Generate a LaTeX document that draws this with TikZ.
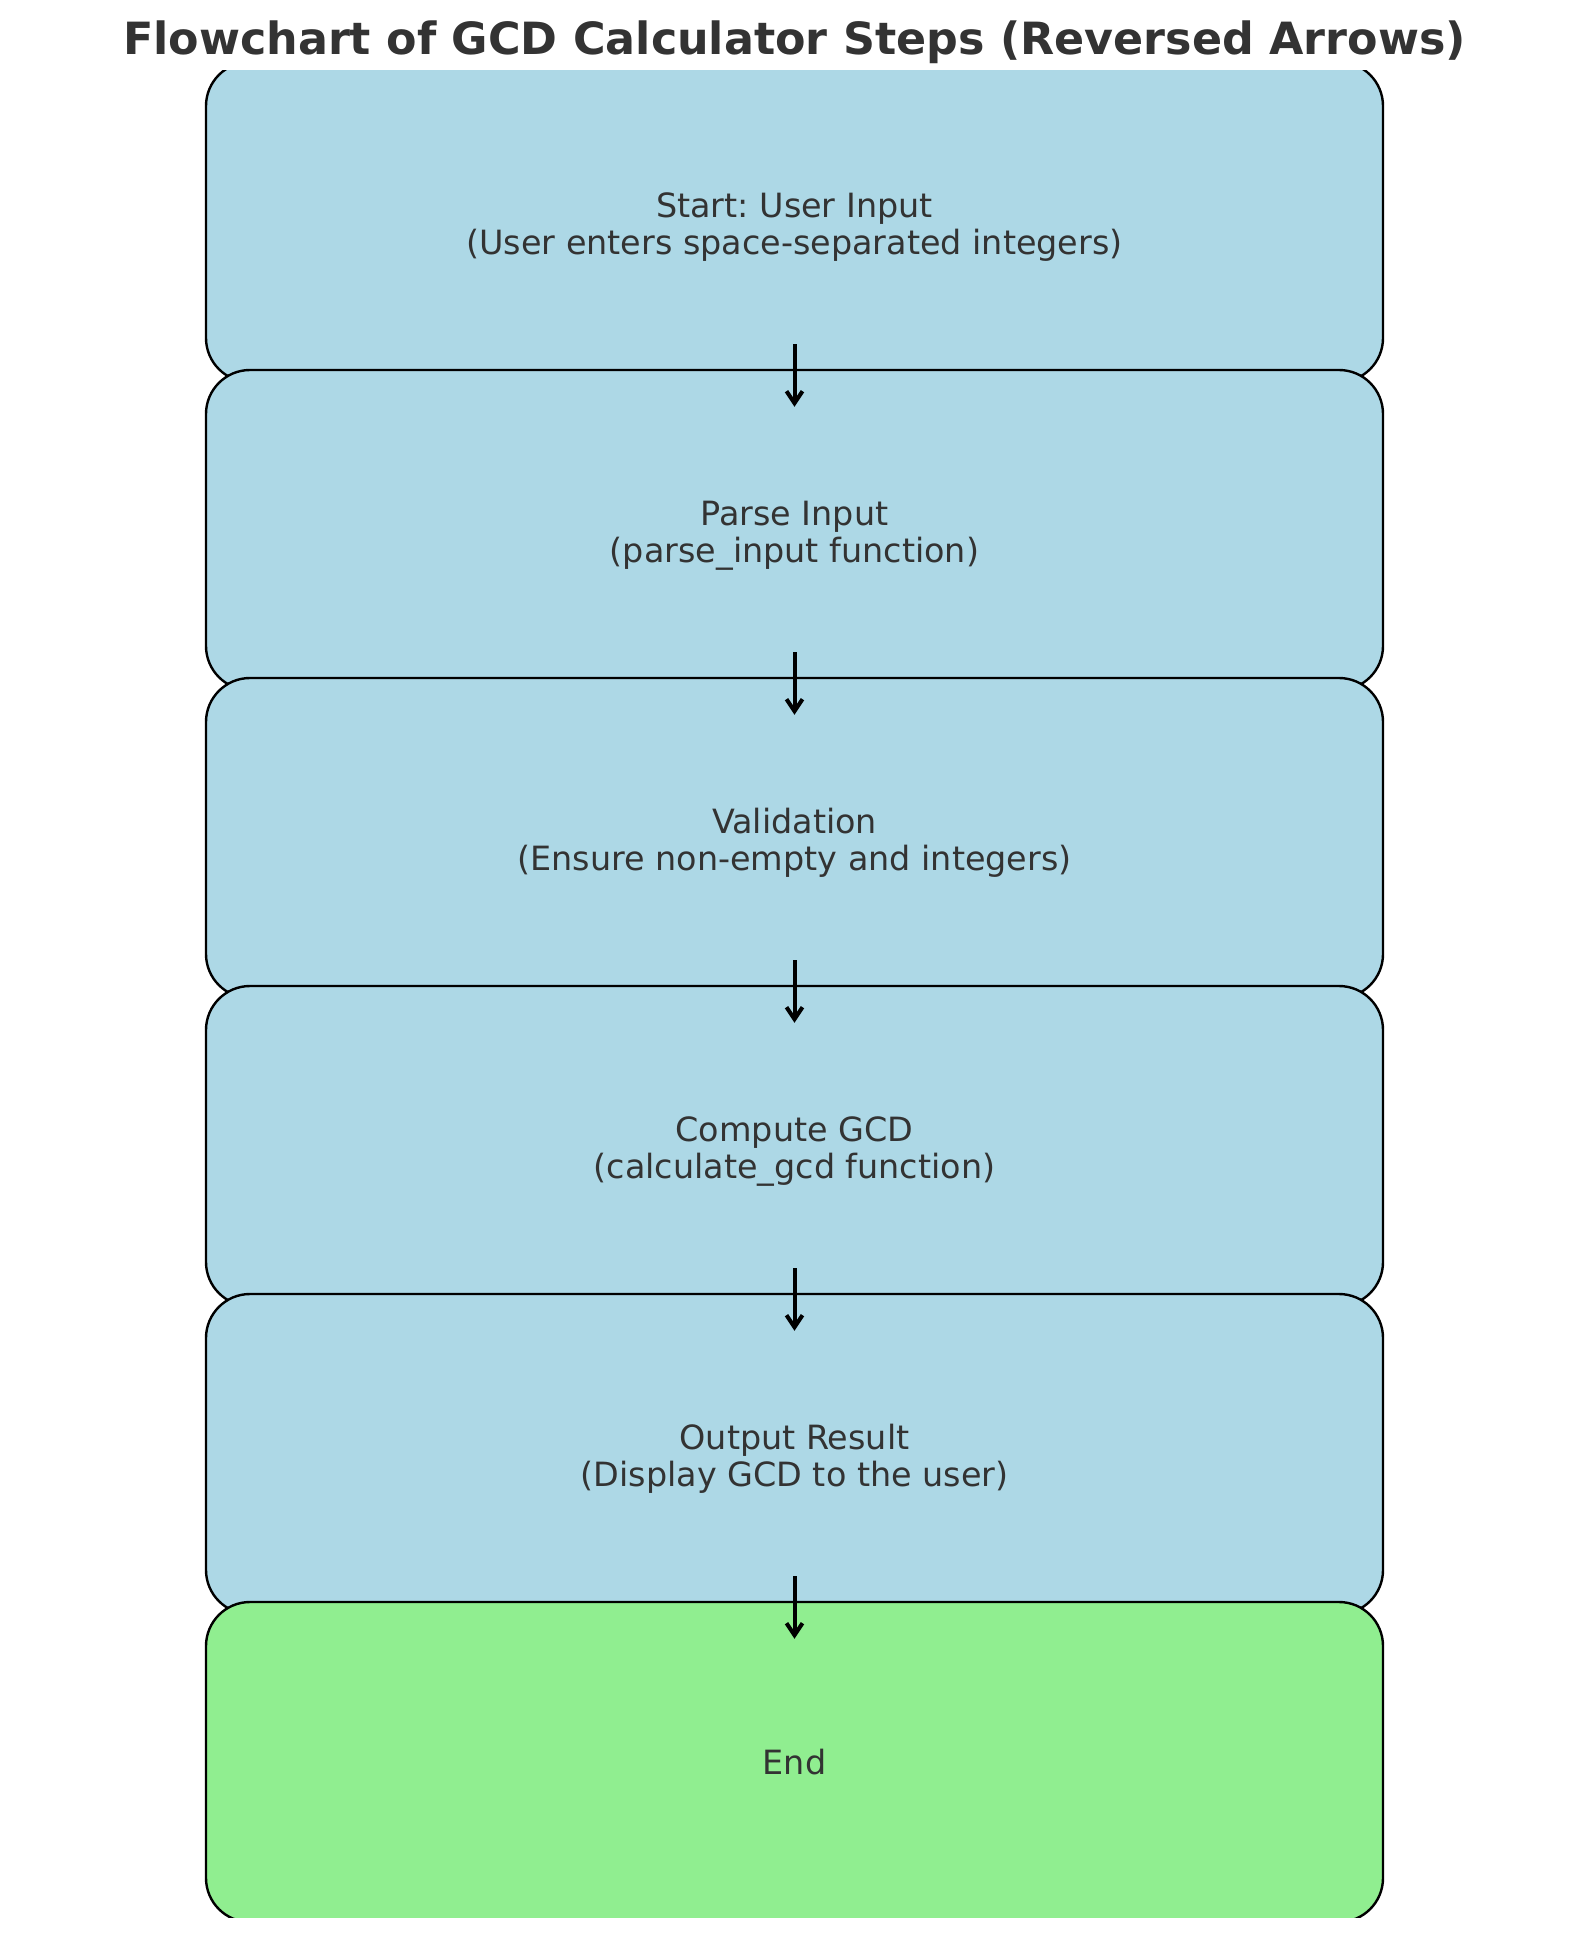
\documentclass[tikz,border=0pt]{standalone}
\usepackage{fontspec}
\setmainfont{DejaVu Sans}
\usetikzlibrary{arrows.meta}
\frenchspacing
\definecolor{boxblue}{HTML}{ADD8E6}
\definecolor{boxgreen}{HTML}{90EE90}
\definecolor{txt}{HTML}{333333}
\newcommand{\twoln}[2]{\raisebox{-3.1pt}[\height][\depth]{\begin{tabular}{@{}c@{}}#1\\#2\end{tabular}}}
\tikzset{
  stepbox/.style={draw=black, line width=1.2pt, rounded corners=22pt, fill=boxblue,
    minimum width=588.5pt, minimum height=160pt, inner sep=0pt, align=center,
    text=txt, font=\fontsize{16.7}{18.6}\selectfont},
  endbox/.style={stepbox, fill=boxgreen},
  arr/.style={-{Straight Barb[length=6pt,width=8pt]}, line width=2pt, black},
}
\begin{document}
\begin{tikzpicture}[x=0.5pt,y=-0.5pt]
\useasboundingbox (0,0) rectangle (1589,1938);
\node[font=\fontsize{22.2}{26}\selectfont\bfseries, text=txt] (title) at (794.5,42) {Flowchart of GCD Calculator Steps (Reversed Arrows)};
\begin{scope}
\clip (0,70) rectangle (1589,1917);
\node[stepbox] (s1) at (794.5,222) {\twoln{Start: User Input}{(User enters space-separated integers)}};
\node[stepbox] (s2) at (794.5,530) {\twoln{Parse Input}{(parse\_input function)}};
\node[stepbox] (s3) at (794.5,838) {\twoln{Validation}{(Ensure non-empty and integers)}};
\node[stepbox] (s4) at (794.5,1146) {\twoln{Compute GCD}{(calculate\_gcd function)}};
\node[stepbox] (s5) at (794.5,1454) {\twoln{Output Result}{(Display GCD to the user)}};
\node[endbox] (s6) at (794.5,1762) {End};
\end{scope}
\foreach \a/\b in {s1/s2,s2/s3,s3/s4,s4/s5,s5/s6}
  \draw[arr] ([yshift=19.5pt]\a.south) -- ([yshift=-19pt]\b.north);
\end{tikzpicture}
\end{document}
